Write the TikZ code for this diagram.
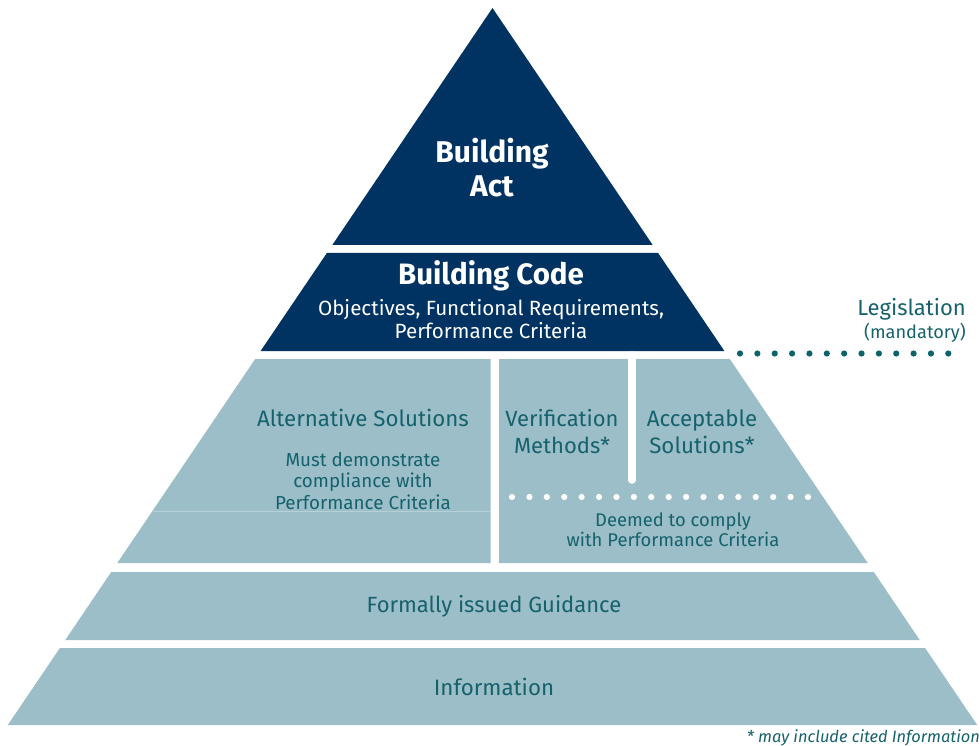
\documentclass[tikz,border=0pt]{standalone}
\usepackage{fontspec}
\setmainfont{Fira Sans}
\begin{document}
\definecolor{navy}{RGB}{0,50,98}
\definecolor{pale}{RGB}{155,190,200}
\definecolor{paleline}{RGB}{182,208,215}
\definecolor{tealtext}{RGB}{22,98,108}
\definecolor{tealdot}{RGB}{12,100,106}
\begin{tikzpicture}[x=1pt,y=-1pt,
  darktier/.style={fill=navy},
  lighttier/.style={fill=pale},
  whitelabel/.style={text=white,align=center,inner sep=0pt},
  teallabel/.style={text=tealtext,align=center,inner sep=0pt},
]
\useasboundingbox (0,0) rectangle (980,746);

% tiers of the pyramid (apex at 492.5,8; sides run at 0.676 per unit of height)
\fill[darktier] (492.5,8) -- (652.7,245) -- (332.3,245) -- cycle;
\fill[darktier] (326.9,253) -- (658.1,253) -- (724.4,351) -- (260.6,351) -- cycle;
\fill[lighttier] (255.2,359) -- (490.7,359) -- (490.7,563) -- (117.3,563) -- cycle;
\fill[lighttier] (499,359) -- (729.8,359) -- (867.7,563) -- (499,563) -- cycle;
\fill[lighttier] (111.2,572) -- (873.8,572) -- (919.7,640) -- (65.3,640) -- cycle;
\fill[lighttier] (59.9,648) -- (925.1,648) -- (977.2,725) -- (7.8,725) -- cycle;

% faint rule inside the alternative solutions panel
\coordinate (ruleL) at (152.5,511);
\coordinate (ruleR) at (490.7,511);
\draw[paleline,line width=0.8pt] (ruleL) -- (ruleR);

% divider between verification methods and acceptable solutions
\coordinate (divTop) at (632,355);
\coordinate (divEnd) at (632,480);
\draw[white,line width=7.5pt,line cap=round] (divTop) -- (divEnd);

% white dotted separator
\foreach \i in {0,...,17}
  \fill[white] (512+\i*17.41,497) circle (3.1);

% teal dotted legislation line
\foreach \i in {0,...,12}
  \fill[tealdot] (740+\i*17.36,353.5) circle (3.1);

% labels
\node[whitelabel,font=\bfseries\fontsize{30}{34}\selectfont] (act) at (492,168) {Building\\Act};
\node[whitelabel,font=\bfseries\fontsize{29.5}{30}\selectfont] (code) at (491,276) {Building Code};
\node[whitelabel,font=\fontsize{20.6}{22.5}\selectfont] (codesub) at (491,319) {Objectives, Functional Requirements,\\Performance Criteria};

\node[text=tealtext,anchor=east,inner sep=0pt,font=\fontsize{22}{24}\selectfont] (leg) at (966,309) {Legislation};
\node[text=tealtext,anchor=east,inner sep=0pt,font=\fontsize{18.2}{20}\selectfont] (mand) at (966,333) {(mandatory)};

\node[teallabel,font=\fontsize{22.3}{26}\selectfont] (alt) at (363,418) {Alternative Solutions};
\node[teallabel,font=\fontsize{18.8}{21.7}\selectfont] (altsub) at (363,481) {Must demonstrate\\compliance with\\Performance Criteria};

\node[teallabel,font=\fontsize{22}{27}\selectfont] (vm) at (562,431.5) {Verification\\Methods*};
\node[teallabel,font=\fontsize{22.3}{27}\selectfont] (as) at (702,431.5) {Acceptable\\Solutions*};
\node[teallabel,font=\fontsize{18.4}{19.5}\selectfont] (deem) at (673,529.5) {Deemed to comply\\with Performance Criteria};

\node[teallabel,font=\fontsize{22}{24}\selectfont] (guid) at (494,606) {Formally issued Guidance};
\node[teallabel,font=\fontsize{22.3}{24}\selectfont] (info) at (494,687) {Information};

\node[text=tealtext,anchor=east,inner sep=0pt,font=\itshape\fontsize{16.4}{18}\selectfont] (foot) at (980,738) {* may include cited Information};
\end{tikzpicture}
\end{document}
